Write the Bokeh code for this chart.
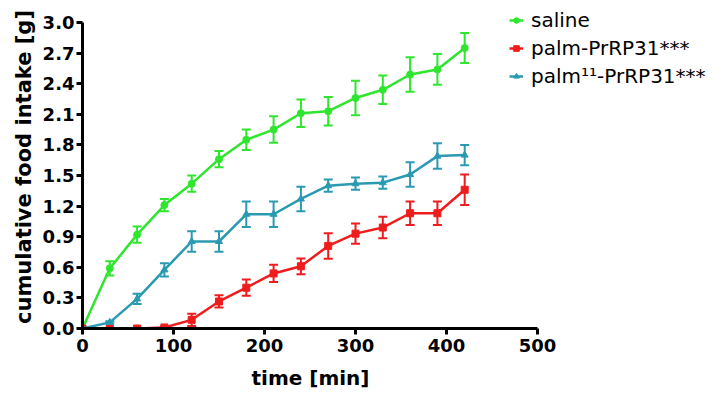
from bokeh.plotting import figure
from bokeh.models import (ColumnDataSource, Whisker, TeeHead, FixedTicker,
                          Legend, LegendItem, NumeralTickFormatter, Range1d, Title)
from bokeh.embed import file_html
from bokeh.resources import INLINE

# ---- data ----
time_min = [0, 30, 60, 90, 120, 150, 180, 210, 240, 270, 300, 330, 360, 390, 420]

saline = [0.0, 0.59, 0.92, 1.21, 1.42, 1.66, 1.85, 1.95, 2.11, 2.13, 2.26, 2.34, 2.49, 2.54, 2.75]
saline_err = [0.0, 0.07, 0.08, 0.06, 0.08, 0.08, 0.10, 0.13, 0.135, 0.14, 0.17, 0.14, 0.17, 0.15, 0.147]

palm = [0.0, 0.0, 0.0, 0.01, 0.085, 0.265, 0.40, 0.54, 0.61, 0.81, 0.93, 0.99, 1.13, 1.13, 1.36]
palm_err = [0.0, 0.0, 0.0, 0.01, 0.06, 0.06, 0.08, 0.085, 0.077, 0.125, 0.10, 0.105, 0.115, 0.115, 0.15]

palm11 = [0.0, 0.06, 0.29, 0.575, 0.853, 0.853, 1.12, 1.12, 1.27, 1.40, 1.42, 1.43, 1.51, 1.69, 1.70]
palm11_err = [0.0, 0.01, 0.05, 0.065, 0.10, 0.10, 0.125, 0.125, 0.12, 0.06, 0.06, 0.06, 0.12, 0.125, 0.10]

series_names = ["saline", "palm-PrRP31***", "palm\u00b9\u00b9-PrRP31***"]
series_colors = ["#2ee62e", "#ee1c1c", "#2a9ab3"]
series_markers = ["circle", "square", "triangle"]

x_ticks = [0, 100, 200, 300, 400, 500]
y_ticks = [0.0, 0.3, 0.6, 0.9, 1.2, 1.5, 1.8, 2.1, 2.4, 2.7, 3.0]
x_axis_span = (0, 500)
y_axis_span = (0.0, 3.0)
x_title = "time [min]"
y_title = "cumulative food intake [g]"

FONT = "DejaVu Sans"

# frame extends beyond the axes' span so the legend (outside the data area) is not clipped
FRAME_W, FRAME_H = 624, 323
X_PX, Y_PX = 455, 306   # pixel length of the drawn axes
x_end = x_axis_span[1] * FRAME_W / X_PX
y_end = y_axis_span[1] * FRAME_H / Y_PX

p = figure(frame_width=FRAME_W, frame_height=FRAME_H,
           min_border_left=82, min_border_right=0,
           min_border_top=5, min_border_bottom=60,
           x_range=Range1d(0, x_end), y_range=Range1d(0, y_end),
           output_backend="svg", toolbar_location=None)
p.outline_line_color = None
p.grid.visible = False
p.background_fill_color = "white"
p.border_fill_color = "white"

for ax in (p.xaxis[0], p.yaxis[0]):
    ax.axis_line_width = 3
    ax.axis_line_color = "black"
    ax.major_tick_line_width = 3
    ax.major_tick_line_color = "black"
    ax.major_tick_out = 6
    ax.major_tick_in = 0
    ax.minor_tick_line_color = None
    ax.major_label_text_font = FONT
    ax.major_label_text_font_style = "bold"
    ax.major_label_text_color = "black"
    ax.major_label_text_font_size = "18px"
    ax.axis_label_text_font = FONT
    ax.axis_label_text_font_style = "bold"
    ax.axis_label_text_color = "black"

p.xaxis.bounds = x_axis_span
p.yaxis.bounds = y_axis_span
p.xaxis.ticker = FixedTicker(ticks=x_ticks)
p.yaxis.ticker = FixedTicker(ticks=y_ticks)
p.yaxis.formatter = NumeralTickFormatter(format="0.0")
p.yaxis.axis_label = y_title
p.yaxis.axis_label_text_font_size = "21px"
p.xaxis.major_label_standoff = 4
p.yaxis.major_label_standoff = 2
p.yaxis.axis_label_standoff = 4

# x title centred under the drawn axis span (not the wider frame)
p.add_layout(Title(text=x_title, align="left", offset=169, standoff=18,
                   text_font=FONT, text_font_style="bold",
                   text_font_size="20px", text_color="black"), "below")

items = []
for name, ys, errs, color, marker in zip(series_names, [saline, palm, palm11],
                                         [saline_err, palm_err, palm11_err],
                                         series_colors, series_markers):
    src = ColumnDataSource(dict(
        x=time_min, y=ys,
        upper=[a + b for a, b in zip(ys, errs)],
        lower=[a - b for a, b in zip(ys, errs)],
    ))
    w = Whisker(base="x", upper="upper", lower="lower", source=src,
                line_color=color, line_width=2,
                upper_head=TeeHead(size=9, line_color=color, line_width=2),
                lower_head=TeeHead(size=9, line_color=color, line_width=2))
    p.add_layout(w)
    r1 = p.line("x", "y", source=src, line_color=color, line_width=2.5)
    r2 = p.scatter("x", "y", source=src, marker=marker, size=7,
                   fill_color=color, line_color=color)
    items.append(LegendItem(label=name, renderers=[r1, r2]))

# legend: item centres at ~20, 48, 76 px from page top; glyph starts at x=509
legend = Legend(items=items, location=(427, 240))
legend.margin = 0
legend.padding = 0
legend.spacing = 4
legend.glyph_width = 14
legend.glyph_height = 24
legend.label_height = 24
legend.label_standoff = 8
legend.label_text_font = FONT
legend.label_text_font_size = "20px"
legend.label_text_color = "black"
legend.border_line_color = None
legend.background_fill_alpha = 0
p.add_layout(legend, "center")

open("out.html", "w").write(file_html(p, INLINE))
